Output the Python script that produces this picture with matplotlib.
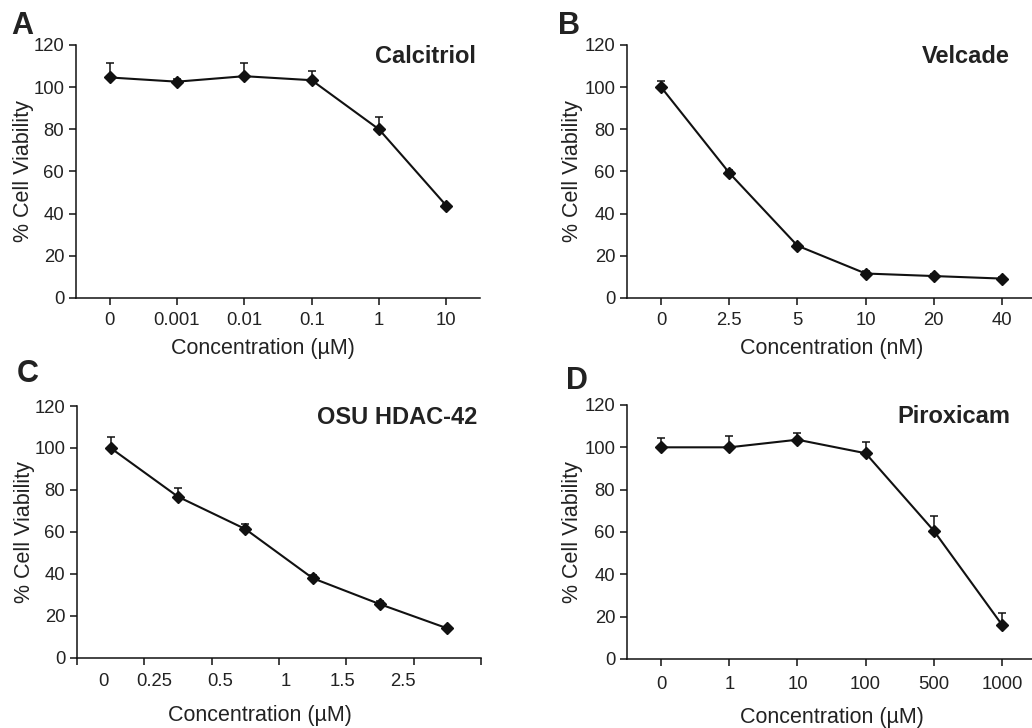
import matplotlib
matplotlib.use('Agg')
import matplotlib.pyplot as plt
import numpy as np

plt.rcParams['font.family'] = ['Liberation Sans', 'DejaVu Sans']

# datos
calcitriol_labels = ["0", "0.001", "0.01", "0.1", "1", "10"]
calcitriol_mean = [104.6, 102.6, 105.2, 103.3, 80.0, 43.8]
calcitriol_err = [6.7, 1.2, 6.4, 4.2, 5.7, 1.0]

velcade_labels = ["0", "2.5", "5", "10", "20", "40"]
velcade_mean = [100.0, 59.3, 24.8, 11.6, 10.4, 9.2]
velcade_err = [3.0, 1.2, 1.0, 1.0, 1.0, 0.8]

osu_labels = ["0", "0.25", "0.5", "1", "1.5", "2.5"]
osu_mean = [100.0, 76.8, 61.4, 38.0, 25.6, 14.1]
osu_err = [5.3, 4.2, 2.4, 1.5, 1.3, 0.8]

piroxicam_labels = ["0", "1", "10", "100", "500", "1000"]
piroxicam_mean = [100.0, 100.0, 103.6, 97.2, 60.6, 16.2]
piroxicam_err = [4.2, 5.5, 3.0, 5.5, 6.8, 5.6]

TEXT = "#222222"

fig = plt.figure(figsize=(10.32, 7.28), dpi=100)

# posiciones de los paneles en fraccion de figura
boxes = {
    "A": [0.0736, 0.5907, 0.3915, 0.3475],
    "B": [0.6076, 0.5907, 0.3963, 0.3475],
    "C": [0.0746, 0.0962, 0.3915, 0.3461],
    "D": [0.6076, 0.0948, 0.3963, 0.3489],
}

panels = [
    ("A", "Calcitriol", calcitriol_labels, calcitriol_mean, calcitriol_err, "Concentration (µM)"),
    ("B", "Velcade", velcade_labels, velcade_mean, velcade_err, "Concentration (nM)"),
    ("C", "OSU HDAC-42", osu_labels, osu_mean, osu_err, "Concentration (µM)"),
    ("D", "Piroxicam", piroxicam_labels, piroxicam_mean, piroxicam_err, "Concentration (µM)"),
]

# (x, y) de la etiqueta x en coordenadas de ejes
xlabel_pos = {"A": (0.463, -0.20), "B": (0.501, -0.20), "C": (0.453, -0.23), "D": (0.50, -0.23)}


def draw_panel(letter, title, labels, mean, err, xlabel):
    ax = fig.add_axes(boxes[letter])
    x = np.arange(1, len(mean) + 1)
    ax.errorbar(x, mean, yerr=[np.zeros(len(err)), err], fmt="-D", color="#111111",
                lw=1.5, ms=6.2, elinewidth=1.1, capsize=2.6, capthick=1.1)
    ax.set_xlim(0.5, len(mean) + 0.5)
    ax.set_ylim(0, 120)
    ax.set_yticks(range(0, 121, 20))
    for side in ["top", "right"]:
        ax.spines[side].set_visible(False)
    for side in ["left", "bottom"]:
        ax.spines[side].set_linewidth(1.1)
        ax.spines[side].set_color("#111111")
    ax.tick_params(axis="both", direction="out", length=5, width=1.1, colors="#111111",
                   labelsize=13.3, labelcolor=TEXT)
    ax.tick_params(axis="y", pad=3.5)

    top_row = letter in ("A", "B")
    if letter == "C":
        # en C las marcas caen entre los puntos y las etiquetas estan corridas
        ax.set_xticks(np.arange(0.5, len(mean) + 1, 1.0))
        ax.set_xticklabels([])
        label_pos = [0.886, 1.644, 2.625, 3.605, 4.45, 5.344]
        ax.set_xticks(label_pos, minor=True)
        ax.set_xticklabels(labels, minor=True)
        ax.tick_params(axis="x", which="minor", length=0, labelsize=13.3,
                       labelcolor=TEXT, pad=11)
    else:
        ax.set_xticks(x)
        ax.set_xticklabels(labels)
        ax.tick_params(axis="x", pad=5 if top_row else 7.5)

    ax.set_ylabel("% Cell Viability", fontsize=15.5, color=TEXT)
    ax.set_xlabel(xlabel, fontsize=15.5, color=TEXT)
    if letter in ("A", "C"):
        ax.yaxis.set_label_coords(-0.131, 0.5)
    else:
        ax.yaxis.set_label_coords(-0.134, 0.5)
    ax.yaxis.label.set_verticalalignment("center")
    ax.xaxis.set_label_coords(*xlabel_pos[letter])
    ax.xaxis.label.set_verticalalignment("center")

    right = 0.9905 if letter in ("A", "C") else 0.9365
    ax.text(right, 0.955, title, transform=ax.transAxes, ha="right", va="center",
            fontsize=17, fontweight="bold", color=TEXT)
    return ax


for p in panels:
    draw_panel(*p)

# letras de los paneles
fig.text(11 / 1032, 1 - 26 / 728, "A", fontsize=22, fontweight="bold", color=TEXT, va="center")
fig.text(558 / 1032, 1 - 26 / 728, "B", fontsize=22, fontweight="bold", color=TEXT, va="center")
fig.text(17 / 1032, 1 - 374 / 728, "C", fontsize=22, fontweight="bold", color=TEXT, va="center")
fig.text(566 / 1032, 1 - 381 / 728, "D", fontsize=22, fontweight="bold", color=TEXT, va="center")

fig.savefig("out.png", dpi=100)
plt.close(fig)
